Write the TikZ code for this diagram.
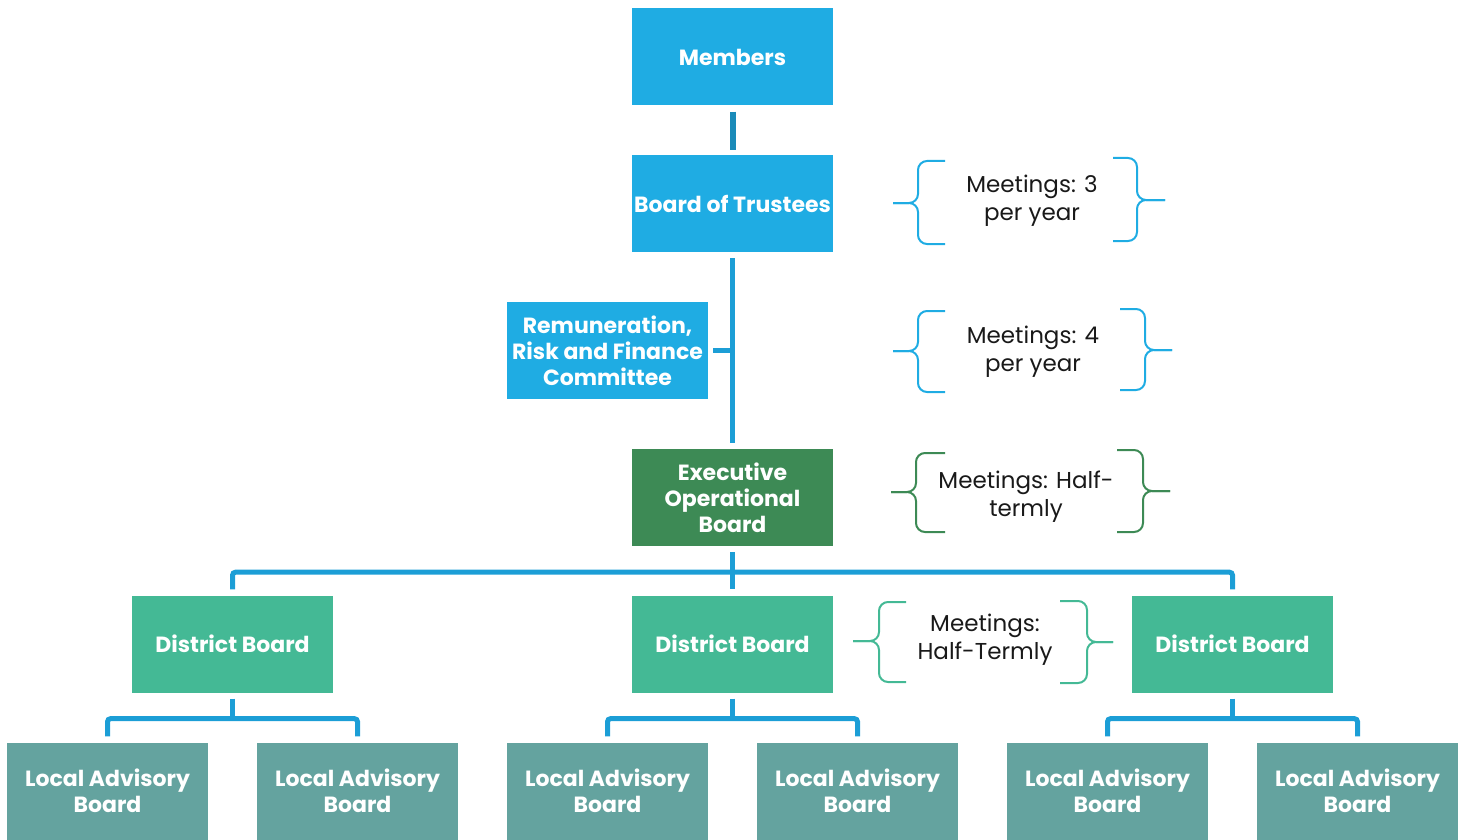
\documentclass[tikz,border=0pt]{standalone}
\usepackage{fontspec}
\setmainfont{Poppins}
\usetikzlibrary{calc}
\definecolor{bluebox}{HTML}{1FACE3}
\definecolor{connblue}{HTML}{1C9ED6}
\definecolor{darkconn}{HTML}{1A8BB9}
\definecolor{eobgreen}{HTML}{3D8A55}
\definecolor{distgreen}{HTML}{44B995}
\definecolor{labteal}{HTML}{64A39F}
\newcommand\braceLeft[7]{%
  \draw[brc,#7] (#3,#4) -- (#2,#4) -- (#2,#5) -- (#1,#5);
  \draw[brc,#7] (#1,#5) -- (#2,#5) -- (#2,#6) -- (#3,#6);}
\begin{document}
\begin{tikzpicture}[x=1pt,y=-1pt,
  box/.style={minimum width=201pt,minimum height=97pt,inner sep=0pt,align=center,text=white,
    font=\fontsize{22}{26}\selectfont\bfseries},
  note/.style={align=center,inner sep=0pt,text=black!90,font=\fontsize{23}{28}\selectfont},
  conn/.style={line width=5pt,draw=connblue},
  brc/.style={line width=2pt,rounded corners=9pt}]
\useasboundingbox (0,0) rectangle (1467,840);

% boxes
\node[box,fill=bluebox] (members) at (732.5,57) {Members};
\node[box,fill=bluebox] (bot) at (732.5,203.5) {Board of Trustees};
\node[box,fill=bluebox] (rrf) at (607.5,350.5) {Remuneration,\\Risk and Finance\\Committee};
\node[box,fill=eobgreen] (eob) at (732.5,497.5) {Executive\\Operational\\Board};
\node[box,fill=distgreen] (db1) at (232.5,644) {District Board};
\node[box,fill=distgreen] (db2) at (732.5,644) {District Board};
\node[box,fill=distgreen] (db3) at (1232.5,644) {District Board};
\foreach \i/\x in {1/107.5,2/357.5,3/607.5,4/857.5,5/1107.5,6/1357.5}
  \node[box,fill=labteal] (lab\i) at (\x,791) {Local Advisory\\Board};

% connectors
\draw[line width=6pt,draw=darkconn] ([yshift=-6pt]members.south) -- ([yshift=5pt]bot.north);
\draw[conn] ([yshift=-6pt]bot.south) -- ([yshift=6pt]eob.north);
\draw[conn] ([xshift=5pt]rrf.east) -- (rrf.east -| bot.south);
\draw[conn] ([yshift=-6pt]eob.south) -- ([yshift=6pt]db2.north);
\draw[conn,rounded corners=3pt] ([yshift=6pt]db1.north) |- ($(eob.south)+(0,26)$) -| ([yshift=6pt]db3.north);
\foreach \d/\a/\b in {db1/lab1/lab2,db2/lab3/lab4,db3/lab5/lab6}{
  \draw[conn] ([yshift=-6pt]\d.south) -- ($(\d.south)+(0,27)$);
  \draw[conn,rounded corners=3pt] ([yshift=6pt]\a.north) |- ($(\d.south)+(0,26)$) -| ([yshift=6pt]\b.north);
}

% notes
\node[note] (n1) at (1032,201) {Meetings: 3\\per year};
\node[note] (n2) at (1033,352) {Meetings: 4\\per year};
\node[note] (n3) at (1026,497) {Meetings: Half-\\termly};
\node[note] (n4) at (985,640) {Meetings:\\Half-Termly};

% braces
\braceLeft{893}{918}{945}{161}{203}{244}{bluebox}
\braceLeft{1165}{1137}{1113}{158}{200}{241}{bluebox}
\braceLeft{893}{918}{945}{311}{351}{392}{bluebox}
\braceLeft{1172}{1145}{1120}{309}{350}{390}{bluebox}
\braceLeft{891}{916}{945}{453}{492}{532}{eobgreen}
\braceLeft{1170}{1143}{1117}{450}{491}{532}{eobgreen}
\braceLeft{853}{879}{906}{602}{641}{682}{distgreen}
\braceLeft{1113}{1087}{1060}{601}{642}{683}{distgreen}
\end{tikzpicture}
\end{document}
